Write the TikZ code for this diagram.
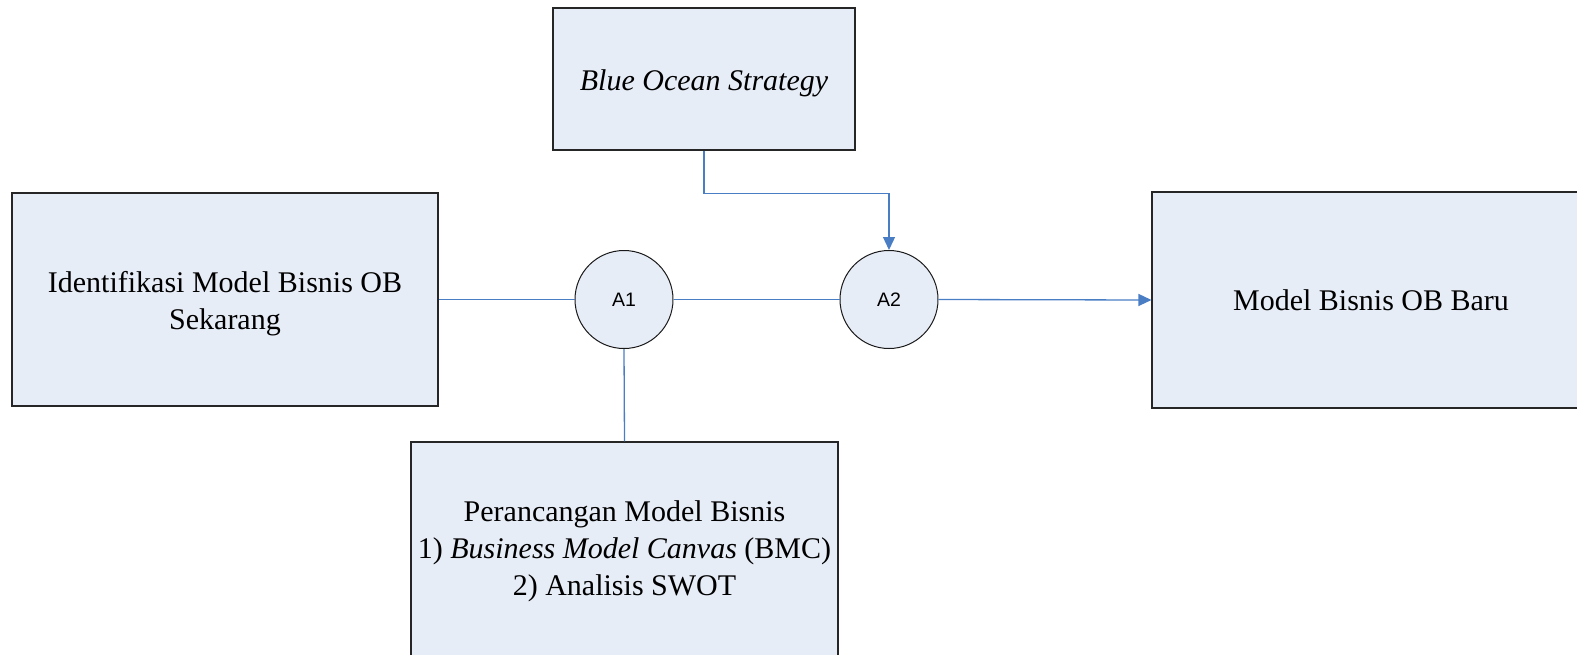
\documentclass[tikz,border=0pt]{standalone}
\usepackage{fontspec}
\setmainfont{Liberation Serif}
\newfontfamily\labelfont{Liberation Sans}
\usetikzlibrary{arrows.meta}
\definecolor{boxfill}{RGB}{231,237,247}
\definecolor{linkblue}{RGB}{74,126,196}
\begin{document}
\begin{tikzpicture}[x=1pt,y=-1pt,
  box/.style={draw=black!85,line width=1.1pt,fill=boxfill,rectangle,align=center,inner sep=0pt,
    font=\fontsize{30}{37}\selectfont},
  joint/.style={draw=black!90,line width=1pt,fill=boxfill,circle,inner sep=0pt,minimum size=98pt,
    font=\labelfont\fontsize{19.5}{20}\selectfont},
  link/.style={draw=linkblue,line width=1.3pt},
  arrowlink/.style={link,-{Triangle[length=13pt,width=12pt]}}]
\useasboundingbox (0,0) rectangle (1577,654);
\node[box,minimum width=302pt,minimum height=142pt] (bos) at (704,79) {\raisebox{-4pt}[\height][\depth]{\itshape Blue Ocean Strategy}};
\node[box,minimum width=426pt,minimum height=213pt] (ident) at (225,299.5) {\raisebox{-4pt}[\height][\depth]{\begin{tabular}{@{}c@{}}Identifikasi Model Bisnis OB\\Sekarang\end{tabular}}};
\node[box,minimum width=438pt,minimum height=216pt] (baru) at (1371,300) {Model Bisnis OB Baru};
\node[box,minimum width=427pt,minimum height=218pt] (peran) at (624.5,551) {Perancangan Model Bisnis\\1) \textit{Business Model Canvas} (BMC)\\2) Analisis SWOT};
\node[joint] (a1) at (624,299.5) {A1};
\node[joint] (a2) at (889,299.5) {A2};
\draw[link] (ident.east) -- (a1.west);
\draw[link] (a1.east) -- (a2.west);
\draw[link] (a1.south) -- (peran.north);
\draw[arrowlink] (a2.east) -- (baru.west);
\draw[arrowlink] (bos.south) -- ++(0,43) -| (a2.north);
\end{tikzpicture}
\end{document}
